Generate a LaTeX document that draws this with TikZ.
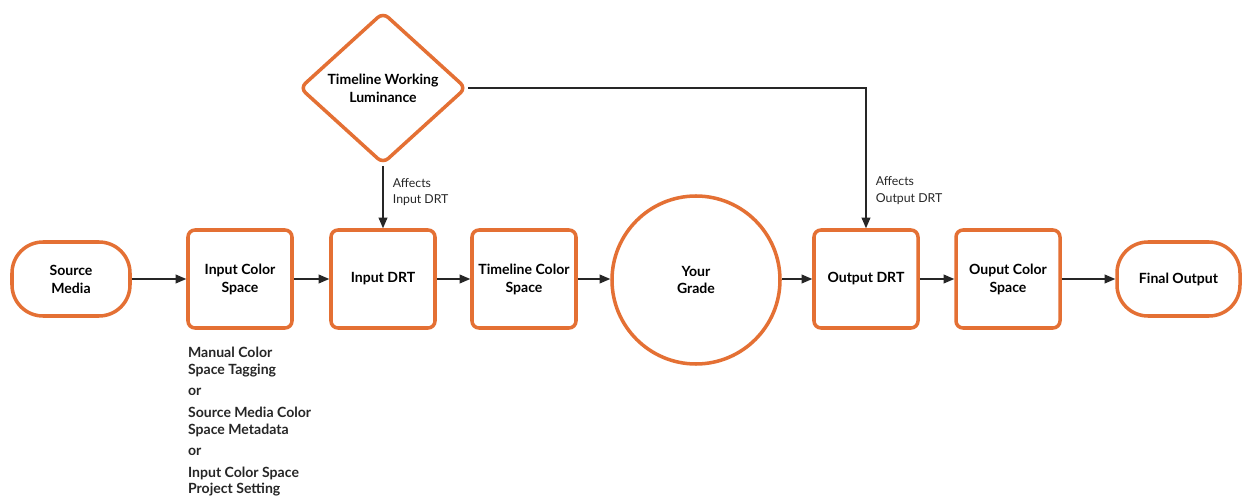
\documentclass[tikz,border=0pt]{standalone}
\usepackage{fontspec}
\setmainfont{Lato}
\usetikzlibrary{positioning, shapes.geometric, arrows.meta, calc}

\definecolor{rimorange}{RGB}{228,112,52}

\begin{document}
\begin{tikzpicture}[
    % ── node styles ─────────────────────────────────────────
    stage/.style = { draw=rimorange, line width=2pt, rounded corners=4pt,
            fill=white, minimum width=2.08cm, minimum height=1.96cm, align=center,
            font=\fontsize{8}{10.2}\selectfont\bfseries, inner sep=1pt, },
    terminal/.style = { stage, rounded corners=0.62cm, minimum height=1.48cm, },
    grade/.style = { stage, circle, minimum size=3.36cm, },
    decision/.style = { stage, diamond, rounded corners=4pt, minimum width=3.34cm,
            minimum height=3.04cm, inner sep=0pt, },
    flow/.style = {-{Triangle[length=6pt, width=5pt]}, line width=0.6pt,
            draw=black!85},
    affects/.style = {font=\fontsize{7}{9.4}\selectfont, align=left,
            text=black!85},
    source/.style = {font=\fontsize{8}{9.6}\selectfont\bfseries, align=left,
            text=black!85, inner sep=0pt},
    ]

    \useasboundingbox (0,0) rectangle (24.9,-9.96);

    % ============================================================
    % MAIN ROW — Source Media  |  ...  |  Final Output
    % ============================================================
    \node[terminal, minimum width=2.36cm]
    (src-media) at (1.42,-5.58)
    {Source\\Media};

    \node[stage]
    (in-space) at (4.80,-5.58)
    {Input Color\\Space};

    \node[stage]
    (in-drt) at (7.66,-5.58)
    {Input DRT};

    \node[stage]
    (tl-space) at (10.48,-5.58)
    {Timeline Color\\Space};

    \node[grade]
    (your-grade) at (13.92,-5.60)
    {Your\\Grade};

    \node[stage]
    (out-drt) at (17.32,-5.58)
    {Output DRT};

    \node[stage]
    (out-space) at (20.16,-5.58)
    {Ouput Color\\Space};

    \node[terminal, minimum width=2.46cm]
    (final-out) at (23.57,-5.58)
    {Final Output};

    % ============================================================
    % DECISION — Timeline Working Luminance
    % ============================================================
    \node[decision]
    (tl-lum) at (7.66,-1.76)
    {Timeline Working\\Luminance};

    % ============================================================
    % FLOW ARROWS
    % ============================================================
    \draw[flow] (src-media) -- (in-space);
    \draw[flow] (in-space) -- (in-drt);
    \draw[flow] (in-drt) -- (tl-space);
    \draw[flow] (tl-space) -- (your-grade.west |- tl-space);
    \draw[flow] (your-grade.east |- out-drt) -- (out-drt);
    \draw[flow] (out-drt) -- (out-space);
    \draw[flow] (out-space) -- (final-out);

    % Luminance --> both DRTs
    \draw[flow] (tl-lum.south) -- (in-drt.north)
    node[affects, pos=0.42, right=2pt] {Affects\\Input DRT};
    \draw[flow] (tl-lum.east) -| (out-drt.north)
    node[affects, pos=0.865, right=2pt] {Affects\\Output DRT};

    % ============================================================
    % INPUT COLOR SPACE SOURCES
    % ============================================================
    \node[source, anchor=north west]
    (in-space-note) at ($(in-space.south west)+(0.03,-0.34)$) {
        Manual Color\\
        Space Tagging\\[2.6pt]
        or\\[2.6pt]
        Source Media Color\\
        Space Metadata\\[2.6pt]
        or\\[2.6pt]
        Input Color Space\\
        Project Setting
    };

\end{tikzpicture}
\end{document}
